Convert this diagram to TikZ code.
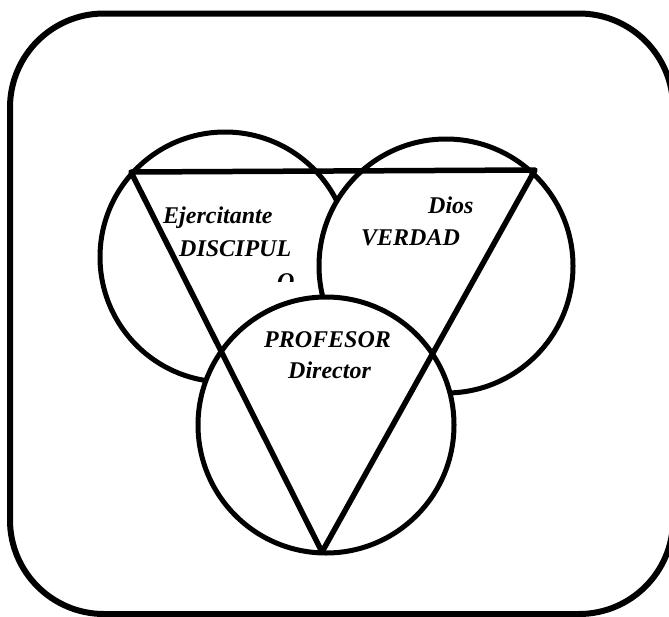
\documentclass[tikz,border=0pt]{standalone}
\usepackage{fontspec}
\setmainfont{Liberation Serif}
\begin{document}
\begin{tikzpicture}[x=1pt,y=-1pt,
  ring/.style={circle,draw,fill=white,line width=5pt,inner sep=0pt},
  lbl/.style={anchor=base west,inner sep=0pt,font=\fontsize{24}{28}\selectfont\bfseries\itshape},
  tri/.style={line width=5.5pt,line join=round}]
\useasboundingbox (0,0) rectangle (669,616);
\fill[white] (0,0) rectangle (669,616);
\draw[line width=6pt,rounded corners=94pt] (10,13.5) rectangle (673,614);
\node[ring,minimum size=250pt] (L) at (225,257) {};
\node[ring,minimum size=254pt] (R) at (446,266) {};
\node[ring,minimum size=256pt] (B) at (326,425) {};
\coordinate (tl) at (131,172);
\coordinate (tr) at (535,170);
\coordinate (bt) at (322,552);
\draw[tri] (tl) -- (tr) -- (bt) -- cycle;
\node[lbl] (ej) at (163,223) {Ejercitante};
\node[lbl] (di) at (179,256) {DISCIPUL};
\begin{scope}
\clip (270,268) rectangle (300,281);
\node[lbl] (o) at (277,289) {O};
\end{scope}
\node[lbl] (dios) at (428,213) {Dios};
\node[lbl] (ve) at (361,245) {VERDAD};
\node[lbl] (pr) at (264,347) {PROFESOR};
\node[lbl] (dr) at (288,378) {Director};
\end{tikzpicture}
\end{document}
